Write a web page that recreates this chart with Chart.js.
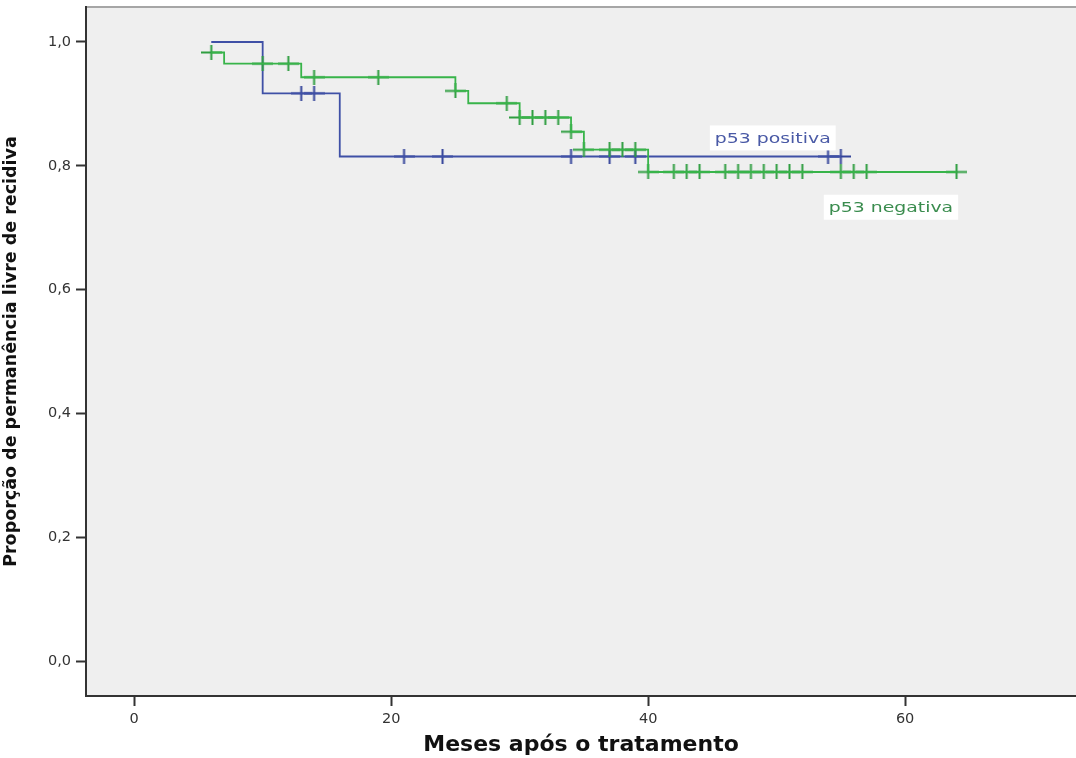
<!DOCTYPE html>
<html>
<head>
<meta charset="utf-8">
<script src="https://cdn.jsdelivr.net/npm/chart.js@4.4.1/dist/chart.umd.min.js"></script>
<style>
  html, body { margin: 0; padding: 0; background: #fff; }
  #wrap { width: 1076px; height: 758px; }
</style>
</head>
<body>
<div id="wrap"><canvas id="kmChart" width="1076" height="758"></canvas></div>
<script>
// Kaplan-Meier steps: time (months) and survival after the step
const posTimes = [6, 10, 16, 55];
const posSurv = [1.0, 0.917, 0.815, 0.815];
const posCensored = [13, 14, 21, 24, 34, 37, 39, 54, 55];

const negTimes = [6, 7, 13, 25, 26, 30, 34, 35, 40, 64];
const negSurv = [0.983, 0.965, 0.943, 0.921, 0.901, 0.878, 0.855, 0.826, 0.790, 0.790];
const negCensored = [6, 10, 12, 14, 19, 25, 29, 30, 31, 32, 33, 34, 35, 37, 38, 39, 40,
  42, 43, 44, 46, 47, 48, 49, 50, 51, 52, 55, 56, 57, 64];

const xTicks = [0, 20, 40, 60];
const yTicks = [0, 0.2, 0.4, 0.6, 0.8, 1.0];
const groupLabels = ['p53 positiva', 'p53 negativa'];

const BLUE = '#3f50a6';
const GREEN = '#38b44a';

function stepPoints(times, surv) {
  return times.map((t, i) => ({ x: t, y: surv[i] }));
}

// survival level of the curve at time t (used to place censor marks)
function survAt(times, surv, t) {
  let s = surv[0];
  for (let i = 0; i < times.length; i++) {
    if (times[i] <= t) s = surv[i];
  }
  return s;
}

function censorPoints(censored, times, surv) {
  return censored.map(t => ({ x: t, y: survAt(times, surv, t) }));
}

function censorMark(color) {
  const c = document.createElement('canvas');
  c.width = 21;
  c.height = 15;
  const g = c.getContext('2d');
  g.strokeStyle = color;
  g.lineWidth = 2;
  g.beginPath();
  g.moveTo(10.5, 0); g.lineTo(10.5, 15);
  g.moveTo(0, 7.5); g.lineTo(21, 7.5);
  g.stroke();
  return c;
}

function noPadding(s) {
  s.paddingLeft = 0;
  s.paddingRight = 0;
  s.paddingTop = 0;
  s.paddingBottom = 0;
}

const plotBackground = {
  id: 'plotBackground',
  beforeDraw(chart) {
    const { ctx, chartArea: a } = chart;
    ctx.save();
    ctx.fillStyle = '#fff';
    ctx.fillRect(0, 0, chart.width, chart.height);
    ctx.fillStyle = '#efefef';
    ctx.fillRect(a.left, a.top, a.right - a.left, a.bottom - a.top);
    ctx.strokeStyle = '#a6a6a6';
    ctx.lineWidth = 2;
    ctx.beginPath();
    ctx.moveTo(a.left, a.top);
    ctx.lineTo(a.right, a.top);
    ctx.stroke();
    ctx.restore();
  }
};

const curveLabels = {
  id: 'curveLabels',
  afterDatasetsDraw(chart, args, opts) {
    const { ctx, scales: { x, y } } = chart;
    opts.items.forEach(it => {
      const px = x.getPixelForValue(it.x);
      const py = y.getPixelForValue(it.y);
      ctx.save();
      ctx.font = '14.5px "DejaVu Sans"';
      const w = ctx.measureText(it.text).width * opts.stretch;
      ctx.fillStyle = '#fff';
      ctx.fillRect(px - w / 2 - 5, py - 12.5, w + 10, 25);
      ctx.translate(px, py);
      ctx.scale(opts.stretch, 1);
      ctx.fillStyle = it.color;
      ctx.textAlign = 'center';
      ctx.textBaseline = 'middle';
      ctx.fillText(it.text, 0, 1);
      ctx.restore();
    });
  }
};

const ctx = document.getElementById('kmChart').getContext('2d');
const kmChart = new Chart(ctx, {
  type: 'scatter',
  data: {
    datasets: [
      {
        label: groupLabels[1],
        data: stepPoints(negTimes, negSurv),
        showLine: true,
        stepped: true,
        borderColor: GREEN,
        borderWidth: 1.8,
        pointRadius: 0
      },
      {
        label: groupLabels[1] + ' censurado',
        data: censorPoints(negCensored, negTimes, negSurv),
        showLine: false,
        pointStyle: censorMark('#2f9e40'),
        pointRadius: 8
      },
      {
        label: groupLabels[0],
        data: stepPoints(posTimes, posSurv),
        showLine: true,
        stepped: true,
        borderColor: BLUE,
        borderWidth: 1.8,
        pointRadius: 0
      },
      {
        label: groupLabels[0] + ' censurado',
        data: censorPoints(posCensored, posTimes, posSurv),
        showLine: false,
        pointStyle: censorMark('#34449a'),
        pointRadius: 8
      }
    ]
  },
  options: {
    responsive: false,
    animation: false,
    devicePixelRatio: 1,
    layout: { autoPadding: false, padding: { top: 7, right: 0, left: 0, bottom: 0 } },
    scales: {
      x: {
        type: 'linear',
        min: -3.75,
        max: 73.3,
        afterBuildTicks: s => { s.ticks = xTicks.map(v => ({ value: v })); },
        afterFit: s => { s.height = 62; noPadding(s); },
        grid: { drawOnChartArea: false, drawTicks: true, tickLength: 10, tickWidth: 2, tickColor: '#333' },
        border: { display: true, color: '#333', width: 2 },
        ticks: {
          color: '#333',
          padding: 5,
          font: { family: 'DejaVu Sans', size: 14.5 },
          callback: v => String(v)
        },
        title: {
          display: true,
          text: 'Meses após o tratamento',
          color: '#111',
          padding: { top: 0, bottom: 0 },
          font: { family: 'DejaVu Sans', size: 22, weight: 'bold' }
        }
      },
      y: {
        type: 'linear',
        min: -0.0565,
        max: 1.0565,
        afterBuildTicks: s => { s.ticks = yTicks.map(v => ({ value: v })); },
        afterFit: s => { s.width = 86; noPadding(s); },
        grid: { drawOnChartArea: false, drawTicks: true, tickLength: 10, tickWidth: 2, tickColor: '#333' },
        border: { display: true, color: '#333', width: 2 },
        ticks: {
          color: '#333',
          padding: 5,
          font: { family: 'DejaVu Sans', size: 14.5 },
          callback: v => v.toFixed(1).replace('.', ',')
        },
        title: {
          display: true,
          text: 'Proporção de permanência livre de recidiva',
          color: '#111',
          padding: { top: 1, bottom: 0 },
          font: { family: 'DejaVu Sans', size: 17.5, weight: 'bold' }
        }
      }
    },
    plugins: {
      legend: { display: false },
      tooltip: { enabled: false },
      curveLabels: {
        stretch: 1.3,
        items: [
          { text: groupLabels[0], x: 49.7, y: 0.845, color: '#4a5aa6' },
          { text: groupLabels[1], x: 58.9, y: 0.733, color: '#3a8c4e' }
        ]
      }
    }
  },
  plugins: [plotBackground, curveLabels]
});
</script>
</body>
</html>
